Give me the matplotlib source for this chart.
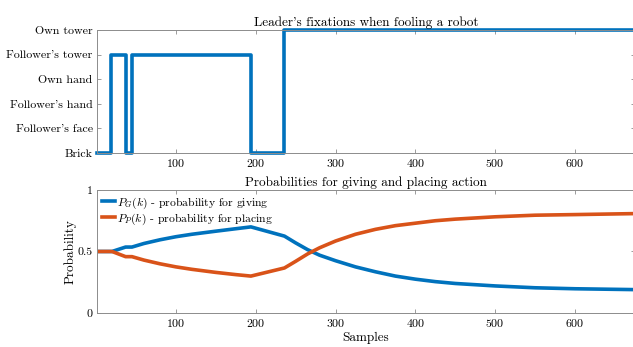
import matplotlib
matplotlib.use("Agg")
import matplotlib.pyplot as plt

plt.rcParams['font.family'] = 'serif'
plt.rcParams['font.serif'] = ['cmr10', 'DejaVu Serif']
plt.rcParams['mathtext.fontset'] = 'cm'
plt.rcParams['axes.formatter.use_mathtext'] = True

# fixation targets (y categories)
targets = ["Brick", "Follower's face", "Follower's hand", "Own hand",
           "Follower's tower", "Own tower"]

# fixation sequence: sample where each fixation starts and its target index
fix_start = [1, 19, 37, 45, 194, 236, 675]
fix_target = [0, 4, 0, 4, 0, 5, 5]

# probability for giving
pg_k = [1, 20, 37, 45, 60, 80, 100, 120, 150, 175, 194, 236, 250, 265, 280,
        300, 325, 350, 375, 400, 425, 450, 500, 550, 600, 675]
pg_v = [0.5, 0.5, 0.536, 0.536, 0.565, 0.595, 0.62, 0.64, 0.665, 0.685, 0.70,
        0.625, 0.57, 0.515, 0.47, 0.425, 0.375, 0.335, 0.30, 0.275, 0.255,
        0.24, 0.22, 0.205, 0.197, 0.19]

# probability for placing
pp_k = [1, 20, 37, 45, 60, 80, 100, 120, 150, 175, 194, 236, 250, 265, 280,
        300, 325, 350, 375, 400, 425, 450, 500, 550, 600, 675]
pp_v = [0.5, 0.5, 0.458, 0.458, 0.43, 0.4, 0.375, 0.355, 0.33, 0.312, 0.30,
        0.366, 0.42, 0.48, 0.53, 0.585, 0.64, 0.68, 0.71, 0.73, 0.75,
        0.763, 0.782, 0.795, 0.80, 0.808]

blue = '#0072BD'
orange = '#D95319'
axcol = '#8c8c8c'
fs = 9.5
tfs = 8.6

fig = plt.figure(figsize=(6.33, 3.47), dpi=100)
ax1 = fig.add_axes([0.153, 0.559, 0.85, 0.3545])
ax2 = fig.add_axes([0.153, 0.098, 0.85, 0.3545])

ax1.step(fix_start, fix_target, where='post', color=blue, lw=2.6, clip_on=False)
ax1.set_ylim(0, 5)
ax1.set_yticks(range(6))
ax1.set_yticklabels(targets)
ax1.set_title("Leader's fixations when fooling a robot", fontsize=fs, pad=3)

ax2.plot(pg_k, pg_v, color=blue, lw=2.6, label=r'$P_G(k)$ - probability for giving')
ax2.plot(pp_k, pp_v, color=orange, lw=2.6, label=r'$P_P(k)$ - probability for placing')
ax2.set_ylim(0, 1)
ax2.set_yticks([0, 0.5, 1])
ax2.set_yticklabels(['0', '0.5', '1'])
ax2.set_ylabel('Probability', fontsize=fs, labelpad=1)
ax2.set_xlabel('Samples', fontsize=fs, labelpad=2)
ax2.set_title('Probabilities for giving and placing action', fontsize=fs, pad=3)
ax2.legend(loc='upper left', frameon=False, fontsize=8.4, handlelength=1.1,
           handletextpad=0.2, borderaxespad=0.25, labelspacing=0.05,
           borderpad=0.2)

for ax in (ax1, ax2):
    ax.set_xlim(1, 675)
    ax.set_xticks([100, 200, 300, 400, 500, 600])
    ax.tick_params(direction='in', top=True, right=True, labelsize=tfs,
                   color=axcol, length=3, width=0.6, pad=3)
    for s in ax.spines.values():
        s.set_color(axcol)
        s.set_linewidth(0.7)

fig.savefig('out.png', dpi=100)
